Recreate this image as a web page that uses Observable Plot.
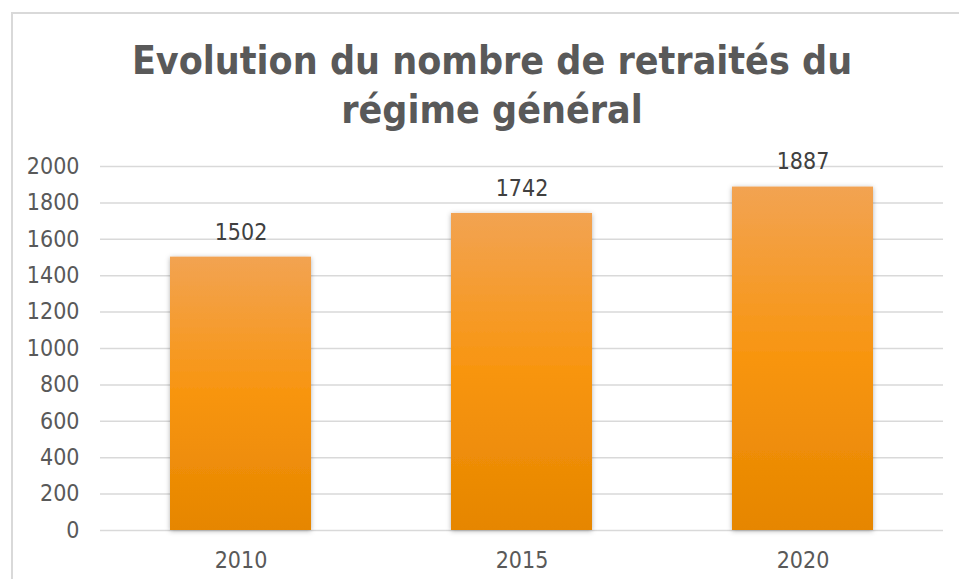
<!DOCTYPE html>
<html>
<head>
<meta charset="utf-8">
<script src="https://cdn.jsdelivr.net/npm/d3@7"></script>
<script src="https://cdn.jsdelivr.net/npm/@observablehq/plot@0.6"></script>
<style>
  html, body { margin: 0; padding: 0; background: #fff; }
  #wrap { position: relative; width: 959px; height: 579px; overflow: hidden; background: #fff; }
  #frame { position: absolute; left: 11px; top: 12px; width: 1000px; height: 700px;
           border-left: 2px solid #d9d9d9; border-top: 2px solid #d9d9d9; }
  #title { position: absolute; left: 11px; width: 962px; top: 36px; text-align: center;
           font-family: "DejaVu Sans Condensed", "DejaVu Sans", sans-serif; font-stretch: condensed;
           font-weight: bold; font-size: 39px; line-height: 49px; color: #595959; }
  #chart { position: absolute; left: 0; top: 140px; }
</style>
</head>
<body>
<div id="wrap">
  <div id="frame"></div>
  <div id="title">Evolution du nombre de retraités du<br>régime général</div>
  <div id="chart"></div>
</div>
<script>
const years = ["2010", "2015", "2020"];
const retraites = [1502, 1742, 1887];
const yTicks = [0, 200, 400, 600, 800, 1000, 1200, 1400, 1600, 1800, 2000];

const data = years.map((y, i) => ({year: y, value: retraites[i]}));

const defs = () => {
  const ns = "http://www.w3.org/2000/svg";
  const d = document.createElementNS(ns, "defs");
  d.innerHTML = `
    <linearGradient id="barGrad" x1="0" y1="0" x2="0" y2="1">
      <stop offset="0" stop-color="#f2a352"/>
      <stop offset="0.5" stop-color="#f8950f"/>
      <stop offset="1" stop-color="#e68600"/>
    </linearGradient>
    <filter id="shadow" x="-20%" y="-10%" width="140%" height="120%">
      <feDropShadow dx="0" dy="1" stdDeviation="2.5" flood-color="#000" flood-opacity="0.3"/>
    </filter>`;
  return d;
};

const font = "'DejaVu Sans Condensed', 'DejaVu Sans', sans-serif";

const plot = Plot.plot({
  width: 959,
  height: 439,
  marginTop: 26,
  marginBottom: 49,
  marginLeft: 100,
  marginRight: 16,
  style: {fontFamily: font, fontSize: "23px", color: "#595959", background: "transparent"},
  x: {domain: years, paddingInner: 0.5, paddingOuter: 0.25, label: null},
  y: {domain: [0, 2000], ticks: yTicks, label: null},
  marks: [
    defs,
    Plot.gridY(yTicks, {stroke: "#d9d9d9", strokeOpacity: 1, strokeWidth: 1.5}),
    Plot.axisY(yTicks, {tickSize: 0, tickPadding: 21, fill: "#595959", fontSize: 23, label: null, tickFormat: d => String(d)}),
    Plot.axisX({tickSize: 0, tickPadding: 21, fill: "#595959", fontSize: 23, label: null}),
    Plot.barY(data, {x: "year", y: "value", fill: "url(#barGrad)", render: (i, s, v, d, c, next) => {
      const g = next(i, s, v, d, c);
      g.setAttribute("filter", "url(#shadow)");
      return g;
    }}),
    Plot.text(data, {x: "year", y: "value", text: d => String(d.value), dy: -25, lineAnchor: "middle",
      fill: "#404040", fontSize: 23})
  ]
});
document.getElementById("chart").appendChild(plot);
</script>
</body>
</html>
